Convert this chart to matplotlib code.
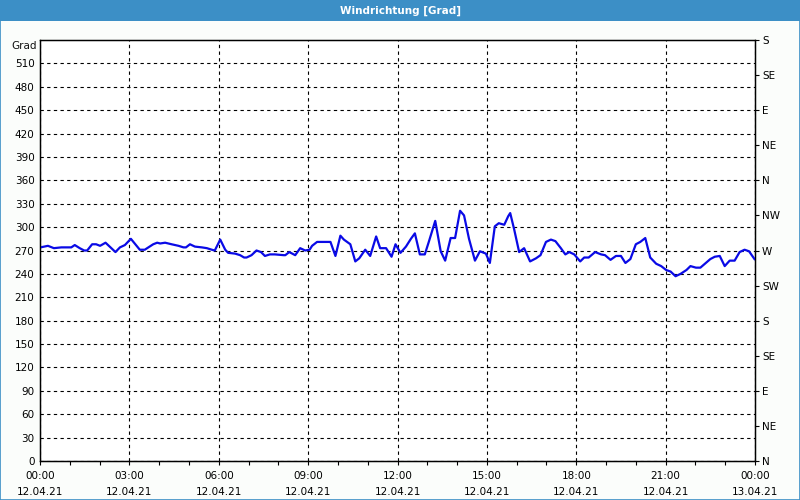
import matplotlib
matplotlib.use('Agg')
import matplotlib.pyplot as plt
import numpy as np
from matplotlib.patches import Rectangle

# minutes since 00:00 on 12.04.21, wind direction in degrees
minutes = [1, 16, 28, 43, 63, 70, 80, 89, 95, 105, 113, 121, 132, 152, 161, 171, 183, 201, 211, 228, 236,
           242, 252, 265, 279, 289, 294, 302, 312, 326, 336, 346, 352, 363, 373, 379, 393, 403, 411, 416,
           426, 436, 445, 453, 463, 473,
           491, 494, 502, 514, 524, 534, 543, 548, 558, 585, 595, 605, 612, 625, 635, 643, 655, 665, 677,
           685, 697, 708,
           716, 726, 737, 747, 755, 765, 775, 783, 796, 807, 816, 827, 836, 846, 854, 864, 876, 886, 898,
           906, 916, 924, 935, 943,
           947, 955, 965, 975, 987, 999, 1008, 1019, 1029, 1038, 1049, 1058, 1066, 1076, 1088, 1096, 1105,
           1118, 1130, 1138, 1149, 1160, 1170, 1179,
           1189, 1200, 1209, 1219, 1229, 1241, 1251, 1261, 1270, 1280, 1290, 1302, 1310, 1321, 1330, 1341,
           1350, 1359, 1369, 1379, 1389, 1399, 1409, 1419, 1428, 1439]
grad = [274, 276, 273, 274, 274, 277, 273, 270, 270, 278, 278, 276, 280, 268, 274, 277, 285, 271, 271, 278, 280,
        279, 280, 278, 276, 274, 274, 278, 275, 274, 273, 271, 270, 284, 271, 267, 266, 264, 261, 261,
        264, 270, 268, 263, 265, 265,
        264, 264, 268, 264, 273, 270, 271, 276, 281, 281, 263, 289, 284, 278, 256, 260, 271, 263, 288,
        273, 273, 262,
        278, 267, 275, 285, 292, 265, 265, 281, 308, 269, 257, 286, 286, 321, 315, 285, 257, 269, 266,
        254, 301, 305, 303, 314,
        318, 297, 268, 273, 256, 260, 264, 281, 284, 282, 273, 265, 268, 265, 256, 261, 261,
        268, 265, 264, 258, 263, 263, 254,
        259, 278, 281, 286, 261, 253, 250, 245, 243, 237, 240, 245, 250, 248, 248, 254,
        259, 262, 263, 250, 257, 257, 268, 271, 269, 259]

x_labels = ['00:00\n12.04.21', '03:00\n12.04.21', '06:00\n12.04.21', '09:00\n12.04.21', '12:00\n12.04.21',
            '15:00\n12.04.21', '18:00\n12.04.21', '21:00\n12.04.21', '00:00\n13.04.21']
y_ticks = list(range(0, 540, 30))
compass = ['N', 'NE', 'E', 'SE', 'S', 'SW', 'W', 'NW', 'N', 'NE', 'E', 'SE', 'S']
compass_deg = list(range(0, 541, 45))

bg = '#fbfdfb'
blue = '#3c8fc6'

fig = plt.figure(figsize=(8, 5), dpi=100, facecolor=bg)
plt.rcParams['font.family'] = ['DejaVu Sans']

# title bar and frame
fig.patches.append(Rectangle((0, 1 - 21 / 500), 1, 21 / 500, transform=fig.transFigure,
                             facecolor=blue, edgecolor='none', zorder=0))
fig.patches.append(Rectangle((0.0006, 0.001), 0.9988, 0.998, transform=fig.transFigure,
                             facecolor='none', edgecolor=blue, linewidth=1.2, zorder=1))
fig.text(0.5, 1 - 10.5 / 500, 'Windrichtung [Grad]', color='white', fontsize=7.5, fontweight='bold',
         ha='center', va='center')
fig.text(24 / 800, 1 - 46 / 500, 'Grad', fontsize=7.5, ha='center', va='center', color='#111111')

ax = fig.add_axes([40 / 800, 39 / 500, 715 / 800, 421 / 500])
ax.set_facecolor('white')

ax.plot(np.array(minutes) / 60.0, grad, color='#0a0ae6', linewidth=1.6, zorder=3)

ax.set_xlim(0, 24)
ax.set_ylim(0, 540)
ax.set_xticks(range(0, 25, 3))
ax.set_xticklabels(x_labels, fontsize=7.5, linespacing=1.75)
ax.set_xticks(range(0, 25), minor=True)
ax.set_yticks(y_ticks)
ax.set_yticklabels([str(v) for v in y_ticks], fontsize=7.5)

ax.tick_params(axis='x', which='major', length=3, width=0.8, direction='out', pad=4, colors='black')
ax.tick_params(axis='x', which='minor', length=3, width=0.8, direction='out')
ax.tick_params(axis='y', length=0, pad=4)

ax.grid(True, which='major', color='black', linestyle=(0, (3, 3)), linewidth=0.8)

for s in ax.spines.values():
    s.set_color('black')
    s.set_linewidth(1.0)

ax2 = ax.twinx()
ax2.set_ylim(0, 540)
ax2.set_yticks(compass_deg)
ax2.set_yticklabels(compass, fontsize=7.5)
ax2.tick_params(axis='y', length=3, width=0.8, direction='out', pad=2)

fig.savefig('out.png', dpi=100, facecolor=bg)
